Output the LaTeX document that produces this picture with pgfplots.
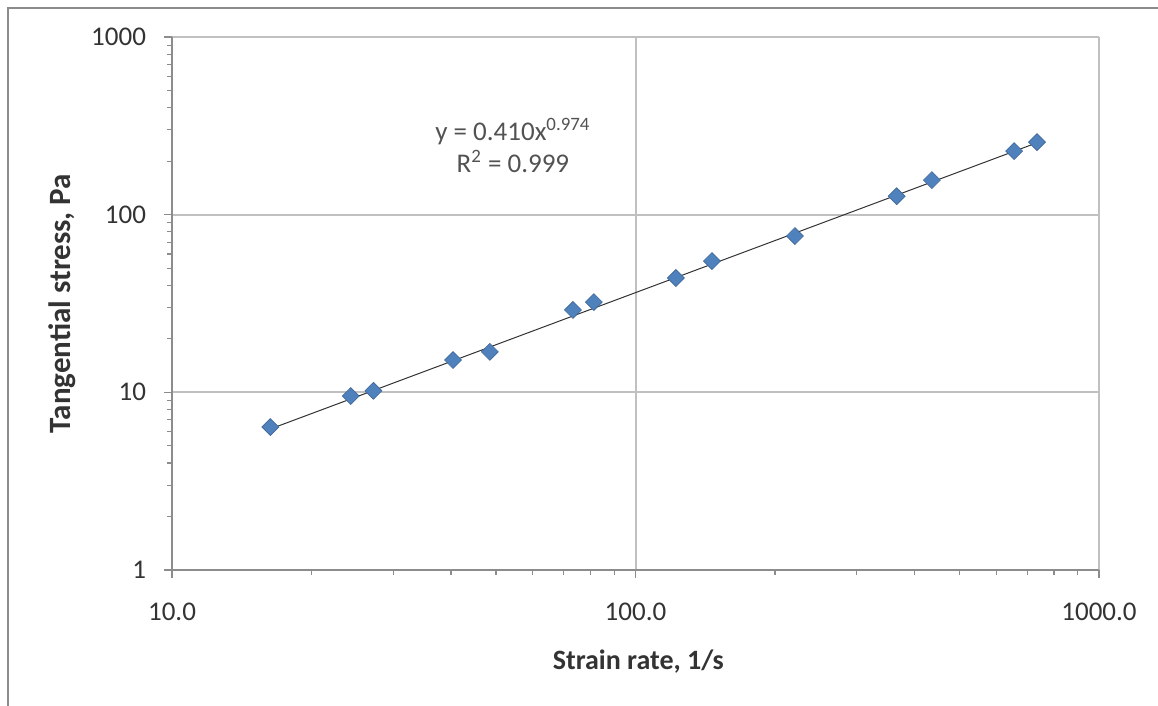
\documentclass[border=0pt]{standalone}
\usepackage{pgfplots}
\pgfplotsset{compat=1.18}
\usepackage{fontspec}
\setmainfont{Carlito}
\definecolor{excelblue}{HTML}{4F81BD}
\definecolor{gridgray}{HTML}{C0C0C0}
\definecolor{axisgray}{HTML}{8C8C8C}
\definecolor{txt}{HTML}{333333}
\begin{document}
\begin{tikzpicture}
\path[use as bounding box] (-86pt,-68pt) rectangle (493pt,285pt);
\begin{scope}
\clip (-86pt,-68pt) rectangle (493pt,285pt);
\draw[axisgray, line width=1pt] (-82pt,-80pt) -- (-82pt,281pt) -- (500pt,281pt);
\end{scope}
\begin{loglogaxis}[
  at={(0,0)}, anchor=south west,
  scale only axis,
  width=463.5pt, height=266.5pt,
  xmin=10, xmax=1000, ymin=1, ymax=1000,
  axis lines=left,
  axis line style={-, axisgray, line width=0.7pt},
  tick align=outside,
  major tick length=4pt,
  minor tick length=2.5pt,
  tick style={axisgray, line width=0.6pt},
  xtick={10,100,1000},
  xticklabels={10.0,100.0,1000.0},
  ytick={1,10,100,1000},
  yticklabels={1,10,100,1000},
  grid=major,
  major grid style={gridgray, line width=1pt},
  minor grid style={draw=none},
  ticklabel style={font=\fontsize{13.5}{16}\selectfont, text=txt},
  xticklabel style={yshift=-9pt},
  yticklabel style={xshift=-5.5pt},
  xlabel={Strain rate, 1/s},
  ylabel={Tangential stress, Pa},
  every axis x label/.style={at={(axis description cs:0.503,-0.1726)}, anchor=center,
    font=\fontsize{14}{17}\selectfont\bfseries, text=txt},
  every axis y label/.style={at={(axis description cs:-0.1187,0.5)}, anchor=center, rotate=90,
    font=\fontsize{15.5}{18}\selectfont\bfseries, text=txt},
  clip=false,
]
\addplot[black!80, line width=0.5pt, no marks] coordinates {(16.3,6.22) (735,254)};
\addplot[only marks, mark=square*, mark size=3pt,
  mark options={rotate=45, fill=excelblue, draw=excelblue!80!black, line width=0.3pt}]
  coordinates {
  (16.3,6.38) (24.3,9.53) (27.2,10.2) (40.4,15.2) (48.5,16.9)
  (73.3,29.1) (81.3,32.2) (122.2,44.0) (146.2,54.8) (220.8,75.8)
  (366,127) (436,156.5) (656,228) (735,256)
  };
\node[align=center, text=txt!85, font=\fontsize{13.5}{16}\selectfont] at (axis cs:54.4,246)
  {y = 0.410x\textsuperscript{0.974}\\R\textsuperscript{2} = 0.999};
\end{loglogaxis}
\end{tikzpicture}
\end{document}
